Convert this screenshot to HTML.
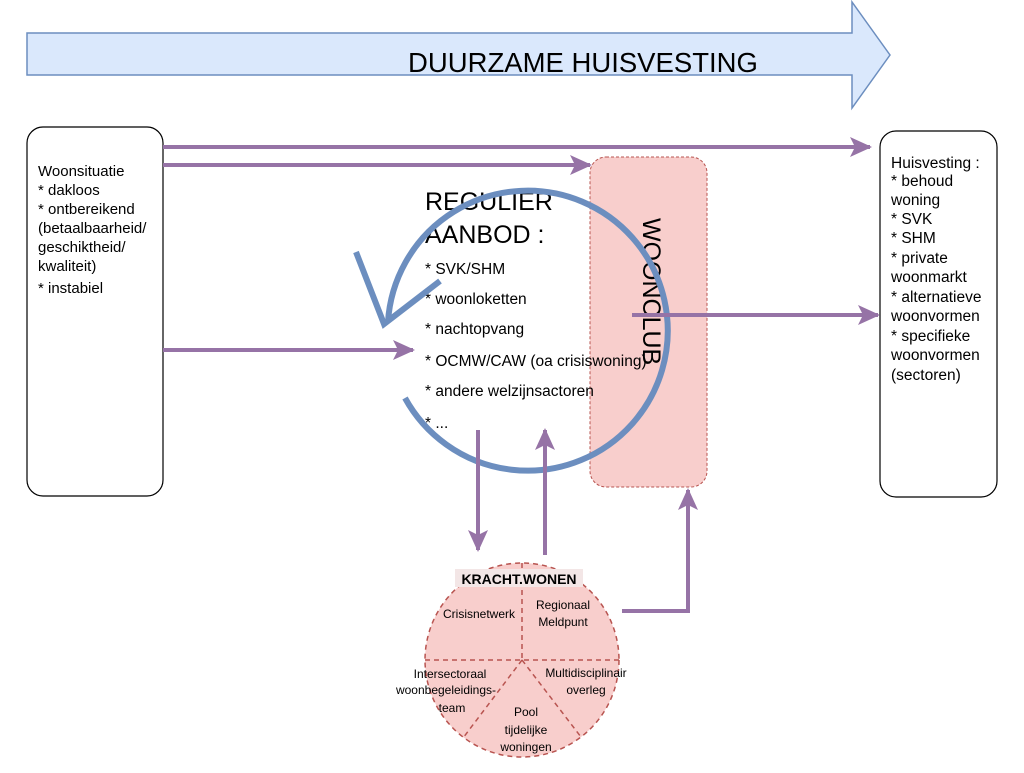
<!DOCTYPE html>
<html><head><meta charset="utf-8"><style>
body{margin:0;background:#fff;width:1024px;height:768px;overflow:hidden;font-family:"Liberation Sans",sans-serif}
</style></head><body>
<svg width="1024" height="768" viewBox="0 0 1024 768" xmlns="http://www.w3.org/2000/svg" font-family="Liberation Sans, sans-serif">
<defs>
<marker id="a" markerWidth="22" markerHeight="20" refX="20" refY="10" orient="auto" markerUnits="userSpaceOnUse" viewBox="0 0 22 20"><path d="M0,0 L22,10 L0,20 L5,10 Z" fill="#9673a6"/></marker>
</defs>
<path d="M27,33 H852 V2 L890,55 L852,108 V75 H27 Z" fill="#dae8fc" stroke="#6c8ebf" stroke-width="1.5"/>
<text x="408" y="72" font-size="27.5" fill="#000">DUURZAME HUISVESTING</text>
<rect x="27" y="127" width="136" height="369" rx="16" fill="#fff" stroke="#000" stroke-width="1.2"/>
<text font-size="15" fill="#000"><tspan x="38" y="176">Woonsituatie</tspan><tspan x="38" y="195">* dakloos</tspan><tspan x="38" y="214">* ontbereikend</tspan><tspan x="38" y="233">(betaalbaarheid/</tspan><tspan x="38" y="252">geschiktheid/</tspan><tspan x="38" y="271">kwaliteit)</tspan><tspan x="38" y="293">* instabiel</tspan></text>
<rect x="880" y="131" width="117" height="366" rx="16" fill="#fff" stroke="#000" stroke-width="1.2"/>
<text font-size="15.5" fill="#000"><tspan x="891" y="168">Huisvesting :</tspan><tspan x="891" y="186">* behoud</tspan><tspan x="891" y="205">woning</tspan><tspan x="891" y="224">* SVK</tspan><tspan x="891" y="243">* SHM</tspan><tspan x="891" y="263">* private</tspan><tspan x="891" y="282">woonmarkt</tspan><tspan x="891" y="302">* alternatieve</tspan><tspan x="891" y="321">woonvormen</tspan><tspan x="891" y="341">* specifieke</tspan><tspan x="891" y="360">woonvormen</tspan><tspan x="891" y="380">(sectoren)</tspan></text>
<rect x="590" y="157" width="117" height="330" rx="16" fill="#f8cecc" stroke="#b85450" stroke-dasharray="3,2"/>
<text font-size="25" fill="#000" transform="translate(643,218) rotate(90)">WOONCLUB</text>
<text font-size="25" fill="#000"><tspan x="425" y="210">REGULIER</tspan><tspan x="425" y="243">AANBOD :</tspan></text>
<text font-size="15.5" fill="#000"><tspan x="425" y="274">* SVK/SHM</tspan><tspan x="425" y="304">* woonloketten</tspan><tspan x="425" y="334">* nachtopvang</tspan><tspan x="425" y="366">* OCMW/CAW (oa crisiswoning)</tspan><tspan x="425" y="396">* andere welzijnsactoren</tspan><tspan x="425" y="428">* ...</tspan></text>
<path d="M405,398 A140,140 0 1 0 388,322" fill="none" stroke="#6c8ebf" stroke-width="6"/>
<path d="M356,252 L384,324 L440,281" fill="none" stroke="#6c8ebf" stroke-width="6"/>
<g stroke="#9673a6" stroke-width="4" fill="none">
<line x1="163" y1="147" x2="870" y2="147" marker-end="url(#a)"/>
<line x1="163" y1="165" x2="590" y2="165" marker-end="url(#a)"/>
<line x1="163" y1="350" x2="413" y2="350" marker-end="url(#a)"/>
<line x1="632" y1="315" x2="878" y2="315" marker-end="url(#a)"/>
<line x1="478" y1="430" x2="478" y2="550" marker-end="url(#a)"/>
<line x1="545" y1="555" x2="545" y2="430" marker-end="url(#a)"/>
<polyline points="622,611 688,611 688,490" marker-end="url(#a)"/>
</g>
<circle cx="522" cy="660" r="97" fill="#f8cecc" stroke="#b85450" stroke-width="1.5" stroke-dasharray="5,4"/>
<g stroke="#b85450" stroke-width="1.5" stroke-dasharray="5,4" fill="none">
<line x1="522" y1="563" x2="522" y2="660"/>
<line x1="425" y1="660" x2="619" y2="660"/>
<line x1="522" y1="660" x2="463" y2="738"/>
<line x1="522" y1="660" x2="581" y2="737"/>
</g>
<rect x="455" y="569" width="128" height="18" fill="#f3e6e6"/>
<text x="519" y="584" font-size="14" font-weight="bold" text-anchor="middle" fill="#000">KRACHT.WONEN</text>
<g font-size="12" fill="#000" text-anchor="middle">
<text x="479" y="618">Crisisnetwerk</text>
<text x="563" y="609">Regionaal</text><text x="563" y="626">Meldpunt</text>
<text x="450" y="678">Intersectoraal</text><text x="446" y="694">woonbegeleidings-</text><text x="452" y="712">team</text>
<text x="586" y="677">Multidisciplinair</text><text x="586" y="694">overleg</text>
<text x="526" y="716">Pool</text><text x="526" y="734">tijdelijke</text><text x="526" y="751">woningen</text>
</g>
</svg>
</body></html>
